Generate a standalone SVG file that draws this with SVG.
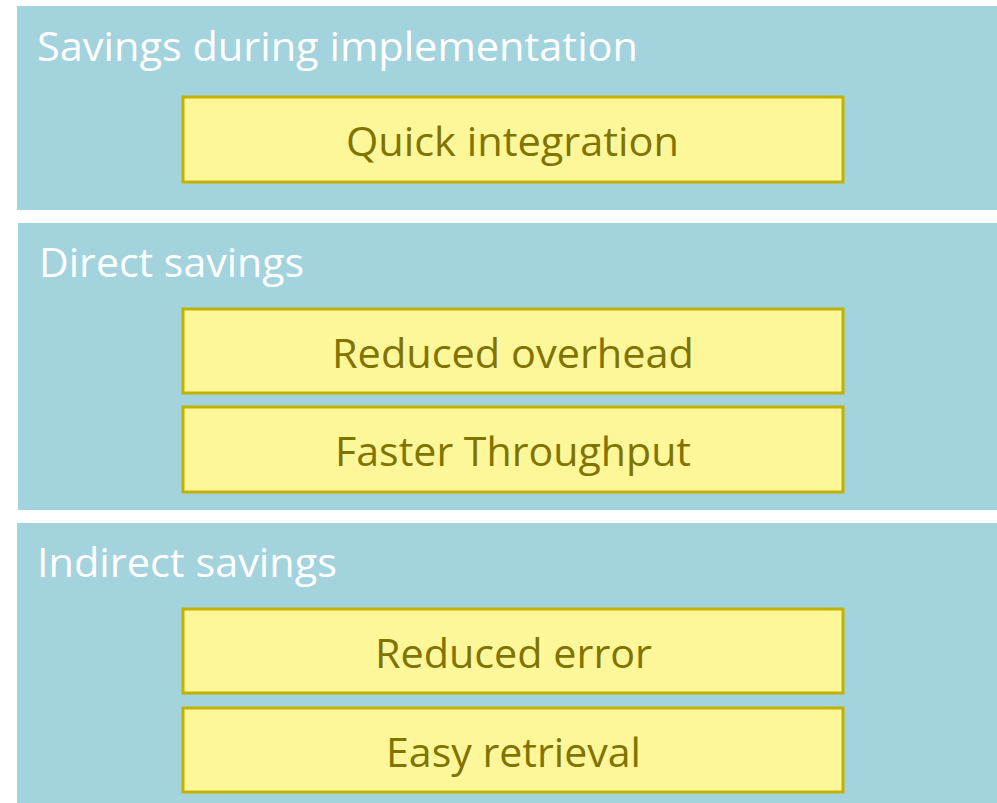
<svg xmlns="http://www.w3.org/2000/svg" width="997" height="803" viewBox="0 0 997 803">
<style>
.panel{fill:#A3D3DD}
.box{fill:#FEF799;stroke:#C2B200;stroke-width:3}
.title{font-family:"Open Sans","Noto Sans",sans-serif;font-size:40px;fill:#FFFFFF}
.lbl{font-family:"Open Sans","Noto Sans",sans-serif;font-size:40px;fill:#7F7400;text-anchor:middle}
</style>
<rect width="997" height="803" fill="#FFFFFF"/>
<g id="panel1">
<rect class="panel" x="17" y="6" width="980" height="204"/>
<text class="title" x="37" y="61" textLength="601" lengthAdjust="spacingAndGlyphs">Savings during implementation</text>
</g>
<g id="node-quick">
<rect class="box" x="183" y="97" width="660" height="85"/>
<text class="lbl" x="512.5" y="156" textLength="333" lengthAdjust="spacingAndGlyphs">Quick integration</text>
</g>
<g id="panel2">
<rect class="panel" x="18" y="223" width="979" height="287"/>
<text class="title" x="39" y="277" textLength="265" lengthAdjust="spacingAndGlyphs">Direct savings</text>
</g>
<g id="node-overhead">
<rect class="box" x="183" y="309" width="660" height="84"/>
<text class="lbl" x="513" y="368" textLength="362" lengthAdjust="spacingAndGlyphs">Reduced overhead</text>
</g>
<g id="node-throughput">
<rect class="box" x="183" y="407" width="660" height="85"/>
<text class="lbl" x="513" y="466" textLength="356" lengthAdjust="spacingAndGlyphs">Faster Throughput</text>
</g>
<g id="panel3">
<rect class="panel" x="17" y="523" width="980" height="280"/>
<text class="title" x="37" y="577" textLength="300" lengthAdjust="spacingAndGlyphs">Indirect savings</text>
</g>
<g id="node-error">
<rect class="box" x="183" y="609" width="660" height="84"/>
<text class="lbl" x="513.5" y="668" textLength="277" lengthAdjust="spacingAndGlyphs">Reduced error</text>
</g>
<g id="node-retrieval">
<rect class="box" x="183" y="708" width="660" height="84"/>
<text class="lbl" x="513.5" y="767" textLength="255" lengthAdjust="spacingAndGlyphs">Easy retrieval</text>
</g>
<g id="connectors"></g>
</svg>
